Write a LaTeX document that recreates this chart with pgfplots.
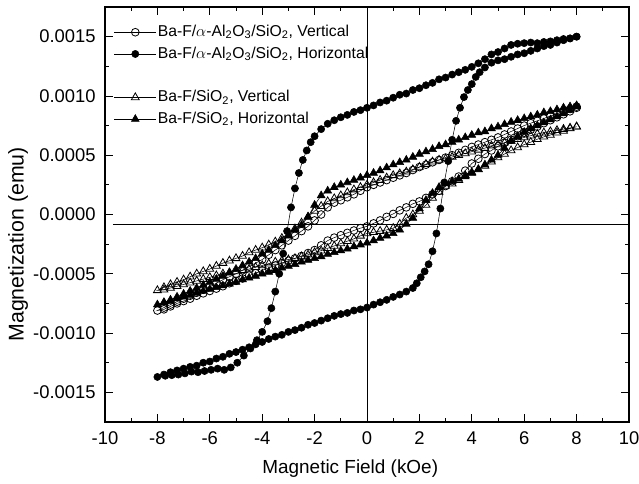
\documentclass[border=0pt]{standalone}
\usepackage{pgfplots}
\pgfplotsset{compat=1.18}
\usepackage{fontspec}
\setmainfont{Liberation Sans}
\begin{document}
\begin{tikzpicture}
\useasboundingbox (-78.75pt,-46.5pt) rectangle (400.5pt,316.5pt);
\begin{axis}[
  at={(0pt,0pt)}, anchor=south west,
  scale only axis, width=393pt, height=311.25pt,
  xmin=-10, xmax=10, ymin=-0.00175, ymax=0.00175,
  xtick={-10,-8,-6,-4,-2,0,2,4,6,8,10},
  ytick={-0.0015,-0.0010,-0.0005,0,0.0005,0.0010,0.0015},
  minor x tick num=1, minor y tick num=1,
  tick align=inside,
  major tick length=6pt, minor tick length=3pt,
  every tick/.style={black, line width=0.6pt},
  axis line style={line width=0.8pt},
  scaled y ticks=false,
  /pgf/number format/assume math mode=true,
  yticklabel style={/pgf/number format/.cd, fixed, fixed zerofill, precision=4, /tikz/.cd, font=\fontsize{13.8}{15}\selectfont, xshift=-3.5pt},
  xticklabel style={font=\fontsize{13.8}{15}\selectfont, yshift=-3.5pt},
  xlabel={Magnetic Field (kOe)},
  ylabel={Magnetization (emu)},
  xlabel style={font=\fontsize{14.2}{16}\selectfont, at={(axis description cs:0.468,-0.113)}, anchor=center},
  ylabel style={font=\fontsize{16}{18}\selectfont, at={(axis description cs:-0.166,0.428)}, anchor=center},
  legend style={at={(axis description cs:0.017,0.966)}, anchor=north west, draw=none, fill=none,
    font=\fontsize{11.8}{14}\selectfont, row sep=0pt, inner sep=0pt,
    nodes={inner sep=1pt, text height=10.3pt, text depth=4pt}},
  legend cell align=left,
  legend image code/.code={\draw[mark repeat=2,mark phase=2,#1] plot coordinates {(0cm,0cm) (0.55cm,0cm) (1.1cm,0cm)};},
]
\draw[line width=0.5pt] (axis cs:-9.7,-0.00008) -- (axis cs:10,-0.00008);
\draw[line width=0.5pt] (axis cs:0,-0.00175) -- (axis cs:0,0.00175);

% Ba-F/alpha-Al2O3/SiO2, Vertical (open circles)
\addplot[black, line width=0.4pt, mark=o, mark size=2.9pt, mark options={line width=0.6pt}] coordinates {
(8,9.1e-4) (7.75,8.9e-4) (7.5,8.7e-4) (7.25,8.5e-4) (7,8.3e-4) (6.75,8.1e-4) (6.5,7.9e-4) (6.25,7.7e-4) (6,7.5e-4) (5.75,7.25e-4) (5.5,7.0e-4) (5.25,6.75e-4) (5,6.5e-4) (4.75,6.3e-4) (4.5,6.1e-4) (4.25,5.9e-4) (4,5.7e-4) (3.75,5.45e-4) (3.5,5.2e-4) (3.25,5.0e-4) (3,4.8e-4) (2.75,4.6e-4) (2.5,4.4e-4) (2.25,4.2e-4) (2,4.0e-4) (1.75,3.75e-4) (1.5,3.5e-4) (1.25,3.3e-4) (1,3.1e-4) (0.75,2.9e-4) (0.5,2.7e-4) (0.25,2.5e-4) (0,2.3e-4) (-0.25,2.0e-4) (-0.5,1.7e-4) (-0.75,1.45e-4) (-1,1.2e-4) (-1.25,1.0e-4) (-1.5,0.6e-4) (-1.75,0.0e-4) (-2,-0.5e-4) (-2.25,-1.0e-4) (-2.5,-1.4e-4) (-2.75,-1.8e-4) (-3,-2.2e-4) (-3.25,-2.6e-4) (-3.5,-3.0e-4) (-3.75,-3.4e-4) (-4,-3.8e-4) (-4.25,-4.1e-4) (-4.5,-4.4e-4) (-4.75,-4.7e-4) (-5,-5.0e-4) (-5.25,-5.25e-4) (-5.5,-5.5e-4) (-5.75,-5.8e-4) (-6,-6.1e-4) (-6.25,-6.35e-4) (-6.5,-6.6e-4) (-6.75,-6.85e-4) (-7,-7.1e-4) (-7.25,-7.35e-4) (-7.5,-7.6e-4) (-7.75,-7.85e-4) (-8,-8.1e-4)
(-7.75,-8.0e-4) (-7.5,-7.75e-4) (-7.25,-7.5e-4) (-7,-7.3e-4) (-6.75,-7.1e-4) (-6.5,-6.85e-4) (-6.25,-6.65e-4) (-6,-6.45e-4) (-5.75,-6.25e-4) (-5.5,-6.05e-4) (-5.25,-5.8e-4) (-5,-5.6e-4) (-4.75,-5.4e-4) (-4.5,-5.15e-4) (-4.25,-4.95e-4) (-4,-4.7e-4) (-3.75,-4.5e-4) (-3.5,-4.3e-4) (-3.25,-4.1e-4) (-3,-3.9e-4) (-2.75,-3.7e-4) (-2.5,-3.5e-4) (-2.25,-3.25e-4) (-2,-3.0e-4) (-1.75,-2.6e-4) (-1.5,-2.2e-4) (-1.25,-1.95e-4) (-1,-1.75e-4) (-0.75,-1.55e-4) (-0.5,-1.35e-4) (-0.25,-1.15e-4) (0,-1.0e-4) (0.25,-0.75e-4) (0.5,-0.5e-4) (0.75,-0.2e-4) (1,0.05e-4) (1.25,0.35e-4) (1.5,0.6e-4) (1.75,0.9e-4) (2,1.1e-4) (2.25,1.4e-4) (2.5,1.7e-4) (2.75,2.0e-4) (3,2.4e-4) (3.25,2.8e-4) (3.5,3.2e-4) (3.75,3.7e-4) (4,4.3e-4) (4.25,4.7e-4) (4.5,5.1e-4) (4.75,5.4e-4) (5,5.75e-4) (5.25,6.05e-4) (5.5,6.3e-4) (5.75,6.6e-4) (6,6.9e-4) (6.25,7.15e-4) (6.5,7.4e-4) (6.75,7.7e-4) (7,7.95e-4) (7.25,8.2e-4) (7.5,8.45e-4) (7.75,8.7e-4) (8,9.0e-4)
};
\addlegendentry{Ba-F/$\alpha$-Al\textsubscript{2}O\textsubscript{3}/SiO\textsubscript{2}, Vertical}

% Ba-F/alpha-Al2O3/SiO2, Horizontal (filled circles)
\addplot[black, line width=0.4pt, mark=*, mark size=2.7pt] coordinates {
(8,15.0e-4) (7.75,14.85e-4) (7.5,14.8e-4) (7.25,14.7e-4) (7,14.6e-4) (6.75,14.55e-4) (6.5,14.45e-4) (6.25,14.5e-4) (6,14.45e-4) (5.75,14.4e-4) (5.5,14.3e-4) (5.25,14.0e-4) (5,13.7e-4) (4.75,13.5e-4) (4.5,13.1e-4) (4.25,12.75e-4) (4,12.45e-4) (3.75,12.2e-4) (3.5,12.0e-4) (3.25,11.8e-4) (3,11.55e-4) (2.75,11.4e-4) (2.5,11.1e-4) (2.25,10.9e-4) (2,10.65e-4) (1.75,10.5e-4) (1.5,10.2e-4) (1.25,10.1e-4) (1,9.85e-4) (0.75,9.6e-4) (0.5,9.45e-4) (0.25,9.2e-4) (0,9.0e-4) (-0.25,8.8e-4) (-0.5,8.65e-4) (-0.75,8.4e-4) (-1,8.2e-4) (-1.25,7.95e-4) (-1.5,7.65e-4) (-1.75,7.2e-4) (-2,6.6e-4) (-2.15,6.1e-4) (-2.3,5.4e-4) (-2.45,4.6e-4) (-2.6,3.5e-4) (-2.75,2.2e-4) (-2.9,0.6e-4) (-3.05,-1.4e-4) (-3.2,-3.3e-4) (-3.35,-5.0e-4) (-3.5,-6.5e-4) (-3.65,-7.9e-4) (-3.8,-9.0e-4) (-4,-9.9e-4) (-4.2,-10.6e-4) (-4.45,-11.3e-4) (-4.7,-11.9e-4) (-4.95,-12.5e-4) (-5.2,-12.9e-4) (-5.45,-13.1e-4) (-5.7,-13.0e-4) (-5.95,-13.1e-4) (-6.2,-13.2e-4) (-6.45,-13.3e-4) (-6.7,-13.25e-4) (-6.95,-13.4e-4) (-7.2,-13.5e-4) (-7.45,-13.55e-4) (-7.7,-13.6e-4) (-8,-13.7e-4)
(-7.75,-13.5e-4) (-7.5,-13.3e-4) (-7.25,-13.15e-4) (-7,-13.0e-4) (-6.75,-12.85e-4) (-6.5,-12.75e-4) (-6.25,-12.5e-4) (-6,-12.4e-4) (-5.75,-12.15e-4) (-5.5,-12.0e-4) (-5.25,-11.75e-4) (-5,-11.6e-4) (-4.75,-11.4e-4) (-4.5,-11.2e-4) (-4.25,-10.95e-4) (-4,-10.75e-4) (-3.75,-10.5e-4) (-3.5,-10.3e-4) (-3.25,-10.15e-4) (-3,-9.9e-4) (-2.75,-9.75e-4) (-2.5,-9.55e-4) (-2.25,-9.3e-4) (-2,-9.15e-4) (-1.75,-8.95e-4) (-1.5,-8.75e-4) (-1.25,-8.55e-4) (-1,-8.4e-4) (-0.75,-8.3e-4) (-0.5,-8.1e-4) (-0.25,-8.0e-4) (0,-7.85e-4) (0.25,-7.6e-4) (0.5,-7.4e-4) (0.75,-7.2e-4) (1,-6.95e-4) (1.25,-6.75e-4) (1.5,-6.5e-4) (1.75,-6.2e-4) (1.9,-5.8e-4) (2.05,-5.3e-4) (2.2,-4.8e-4) (2.35,-4.2e-4) (2.5,-3.1e-4) (2.65,-1.6e-4) (2.8,0.5e-4) (2.95,2.7e-4) (3.1,4.5e-4) (3.25,6.3e-4) (3.4,7.9e-4) (3.55,9.0e-4) (3.7,9.9e-4) (3.85,10.5e-4) (4,11.0e-4) (4.15,11.6e-4) (4.3,12.0e-4) (4.5,12.4e-4) (4.75,12.8e-4) (5,13.0e-4) (5.25,13.1e-4) (5.5,13.3e-4) (5.75,13.5e-4) (6,13.6e-4) (6.25,13.8e-4) (6.5,14.0e-4) (6.75,14.2e-4) (7,14.3e-4) (7.25,14.5e-4) (7.5,14.7e-4) (7.75,14.85e-4) (8,15.0e-4)
};
\addlegendentry{Ba-F/$\alpha$-Al\textsubscript{2}O\textsubscript{3}/SiO\textsubscript{2}, Horizontal}

\addlegendimage{empty legend}
\addlegendentry{}

% Ba-F/SiO2, Vertical (open triangles)
\addplot[black, line width=0.4pt, mark=triangle, mark size=3.4pt, mark options={line width=0.6pt}] coordinates {
(8,7.4e-4) (7.75,7.3e-4) (7.5,7.2e-4) (7.25,7.1e-4) (7,7.0e-4) (6.75,6.9e-4) (6.5,6.8e-4) (6.25,6.65e-4) (6,6.5e-4) (5.75,6.35e-4) (5.5,6.2e-4) (5.25,6.05e-4) (5,5.9e-4) (4.75,5.8e-4) (4.5,5.6e-4) (4.25,5.45e-4) (4,5.3e-4) (3.75,5.15e-4) (3.5,5.0e-4) (3.25,4.85e-4) (3,4.7e-4) (2.75,4.6e-4) (2.5,4.45e-4) (2.25,4.25e-4) (2,4.0e-4) (1.75,3.8e-4) (1.5,3.6e-4) (1.25,3.45e-4) (1,3.3e-4) (0.75,3.1e-4) (0.5,2.9e-4) (0.25,2.7e-4) (0,2.5e-4) (-0.25,2.3e-4) (-0.5,2.1e-4) (-0.75,1.85e-4) (-1,1.6e-4) (-1.25,1.35e-4) (-1.5,1.1e-4) (-1.75,0.7e-4) (-2,0.3e-4) (-2.25,-0.2e-4) (-2.5,-0.7e-4) (-2.75,-1.2e-4) (-3,-1.7e-4) (-3.25,-2.0e-4) (-3.5,-2.3e-4) (-3.75,-2.55e-4) (-4,-2.8e-4) (-4.25,-3.0e-4) (-4.5,-3.2e-4) (-4.75,-3.5e-4) (-5,-3.7e-4) (-5.25,-3.9e-4) (-5.5,-4.1e-4) (-5.75,-4.35e-4) (-6,-4.6e-4) (-6.25,-4.8e-4) (-6.5,-5.0e-4) (-6.75,-5.25e-4) (-7,-5.5e-4) (-7.25,-5.7e-4) (-7.5,-5.9e-4) (-7.75,-6.15e-4) (-8,-6.4e-4)
(-7.75,-6.35e-4) (-7.5,-6.2e-4) (-7.25,-6.05e-4) (-7,-5.9e-4) (-6.75,-5.75e-4) (-6.5,-5.6e-4) (-6.25,-5.45e-4) (-6,-5.3e-4) (-5.75,-5.15e-4) (-5.5,-5.0e-4) (-5.25,-4.9e-4) (-5,-4.8e-4) (-4.75,-4.7e-4) (-4.5,-4.6e-4) (-4.25,-4.45e-4) (-4,-4.3e-4) (-3.75,-4.15e-4) (-3.5,-4.0e-4) (-3.25,-3.9e-4) (-3,-3.8e-4) (-2.75,-3.7e-4) (-2.5,-3.55e-4) (-2.25,-3.4e-4) (-2,-3.2e-4) (-1.75,-3.05e-4) (-1.5,-2.85e-4) (-1.25,-2.65e-4) (-1,-2.45e-4) (-0.75,-2.25e-4) (-0.5,-2.05e-4) (-0.25,-1.8e-4) (0,-1.6e-4) (0.25,-1.5e-4) (0.5,-1.4e-4) (0.75,-1.3e-4) (1,-1.15e-4) (1.25,-0.8e-4) (1.5,-0.3e-4) (1.75,0.0e-4) (2,0.3e-4) (2.25,0.8e-4) (2.5,1.4e-4) (2.75,1.9e-4) (3,2.4e-4) (3.25,2.6e-4) (3.5,2.9e-4) (3.75,3.3e-4) (4,3.55e-4) (4.25,3.8e-4) (4.5,4.1e-4) (4.75,4.45e-4) (5,4.8e-4) (5.25,5.1e-4) (5.5,5.4e-4) (5.75,5.65e-4) (6,5.9e-4) (6.25,6.1e-4) (6.5,6.35e-4) (6.75,6.55e-4) (7,6.7e-4) (7.25,6.9e-4) (7.5,7.05e-4) (7.75,7.25e-4) (8,7.4e-4)
};
\addlegendentry{Ba-F/SiO\textsubscript{2}, Vertical}

% Ba-F/SiO2, Horizontal (filled triangles)
\addplot[black, line width=0.4pt, mark=triangle*, mark size=3.4pt] coordinates {
(8,9.2e-4) (7.75,9.1e-4) (7.5,9.0e-4) (7.25,8.85e-4) (7,8.7e-4) (6.75,8.6e-4) (6.5,8.4e-4) (6.25,8.25e-4) (6,8.1e-4) (5.75,7.95e-4) (5.5,7.8e-4) (5.25,7.6e-4) (5,7.4e-4) (4.75,7.25e-4) (4.5,7.0e-4) (4.25,6.9e-4) (4,6.7e-4) (3.75,6.5e-4) (3.5,6.3e-4) (3.25,6.1e-4) (3,5.9e-4) (2.75,5.75e-4) (2.5,5.5e-4) (2.25,5.3e-4) (2,5.1e-4) (1.75,4.85e-4) (1.5,4.6e-4) (1.25,4.4e-4) (1,4.2e-4) (0.75,3.95e-4) (0.5,3.7e-4) (0.25,3.5e-4) (0,3.3e-4) (-0.25,3.1e-4) (-0.5,2.9e-4) (-0.75,2.7e-4) (-1,2.5e-4) (-1.25,2.3e-4) (-1.5,2.0e-4) (-1.75,1.6e-4) (-2,0.8e-4) (-2.25,-0.2e-4) (-2.5,-0.9e-4) (-2.75,-1.3e-4) (-3,-1.8e-4) (-3.25,-2.2e-4) (-3.5,-2.6e-4) (-3.75,-3.0e-4) (-4,-3.3e-4) (-4.25,-3.7e-4) (-4.5,-4.0e-4) (-4.75,-4.3e-4) (-5,-4.6e-4) (-5.25,-4.9e-4) (-5.5,-5.2e-4) (-5.75,-5.45e-4) (-6,-5.7e-4) (-6.25,-5.95e-4) (-6.5,-6.2e-4) (-6.75,-6.45e-4) (-7,-6.7e-4) (-7.25,-6.95e-4) (-7.5,-7.2e-4) (-7.75,-7.4e-4) (-8,-7.6e-4)
(-7.75,-7.45e-4) (-7.5,-7.3e-4) (-7.25,-7.1e-4) (-7,-6.95e-4) (-6.75,-6.8e-4) (-6.5,-6.6e-4) (-6.25,-6.45e-4) (-6,-6.3e-4) (-5.75,-6.15e-4) (-5.5,-6.0e-4) (-5.25,-5.85e-4) (-5,-5.7e-4) (-4.75,-5.5e-4) (-4.5,-5.35e-4) (-4.25,-5.2e-4) (-4,-5.0e-4) (-3.75,-4.85e-4) (-3.5,-4.7e-4) (-3.25,-4.5e-4) (-3,-4.35e-4) (-2.75,-4.2e-4) (-2.5,-4.0e-4) (-2.25,-3.85e-4) (-2,-3.7e-4) (-1.75,-3.55e-4) (-1.5,-3.35e-4) (-1.25,-3.2e-4) (-1,-3.05e-4) (-0.75,-2.9e-4) (-0.5,-2.7e-4) (-0.25,-2.55e-4) (0,-2.4e-4) (0.25,-2.2e-4) (0.5,-2.0e-4) (0.75,-1.8e-4) (1,-1.6e-4) (1.25,-1.3e-4) (1.5,-0.8e-4) (1.75,-0.3e-4) (2,0.5e-4) (2.25,1.2e-4) (2.5,1.8e-4) (2.75,2.3e-4) (3,2.6e-4) (3.25,2.8e-4) (3.5,3.0e-4) (3.75,3.2e-4) (4,3.5e-4) (4.25,3.8e-4) (4.5,4.2e-4) (4.75,4.6e-4) (5,5.0e-4) (5.25,5.6e-4) (5.5,6.2e-4) (5.75,6.6e-4) (6,6.95e-4) (6.25,7.25e-4) (6.5,7.5e-4) (6.75,7.75e-4) (7,8.0e-4) (7.25,8.25e-4) (7.5,8.5e-4) (7.75,8.8e-4) (8,9.1e-4)
};
\addlegendentry{Ba-F/SiO\textsubscript{2}, Horizontal}
\end{axis}
\end{tikzpicture}
\end{document}
